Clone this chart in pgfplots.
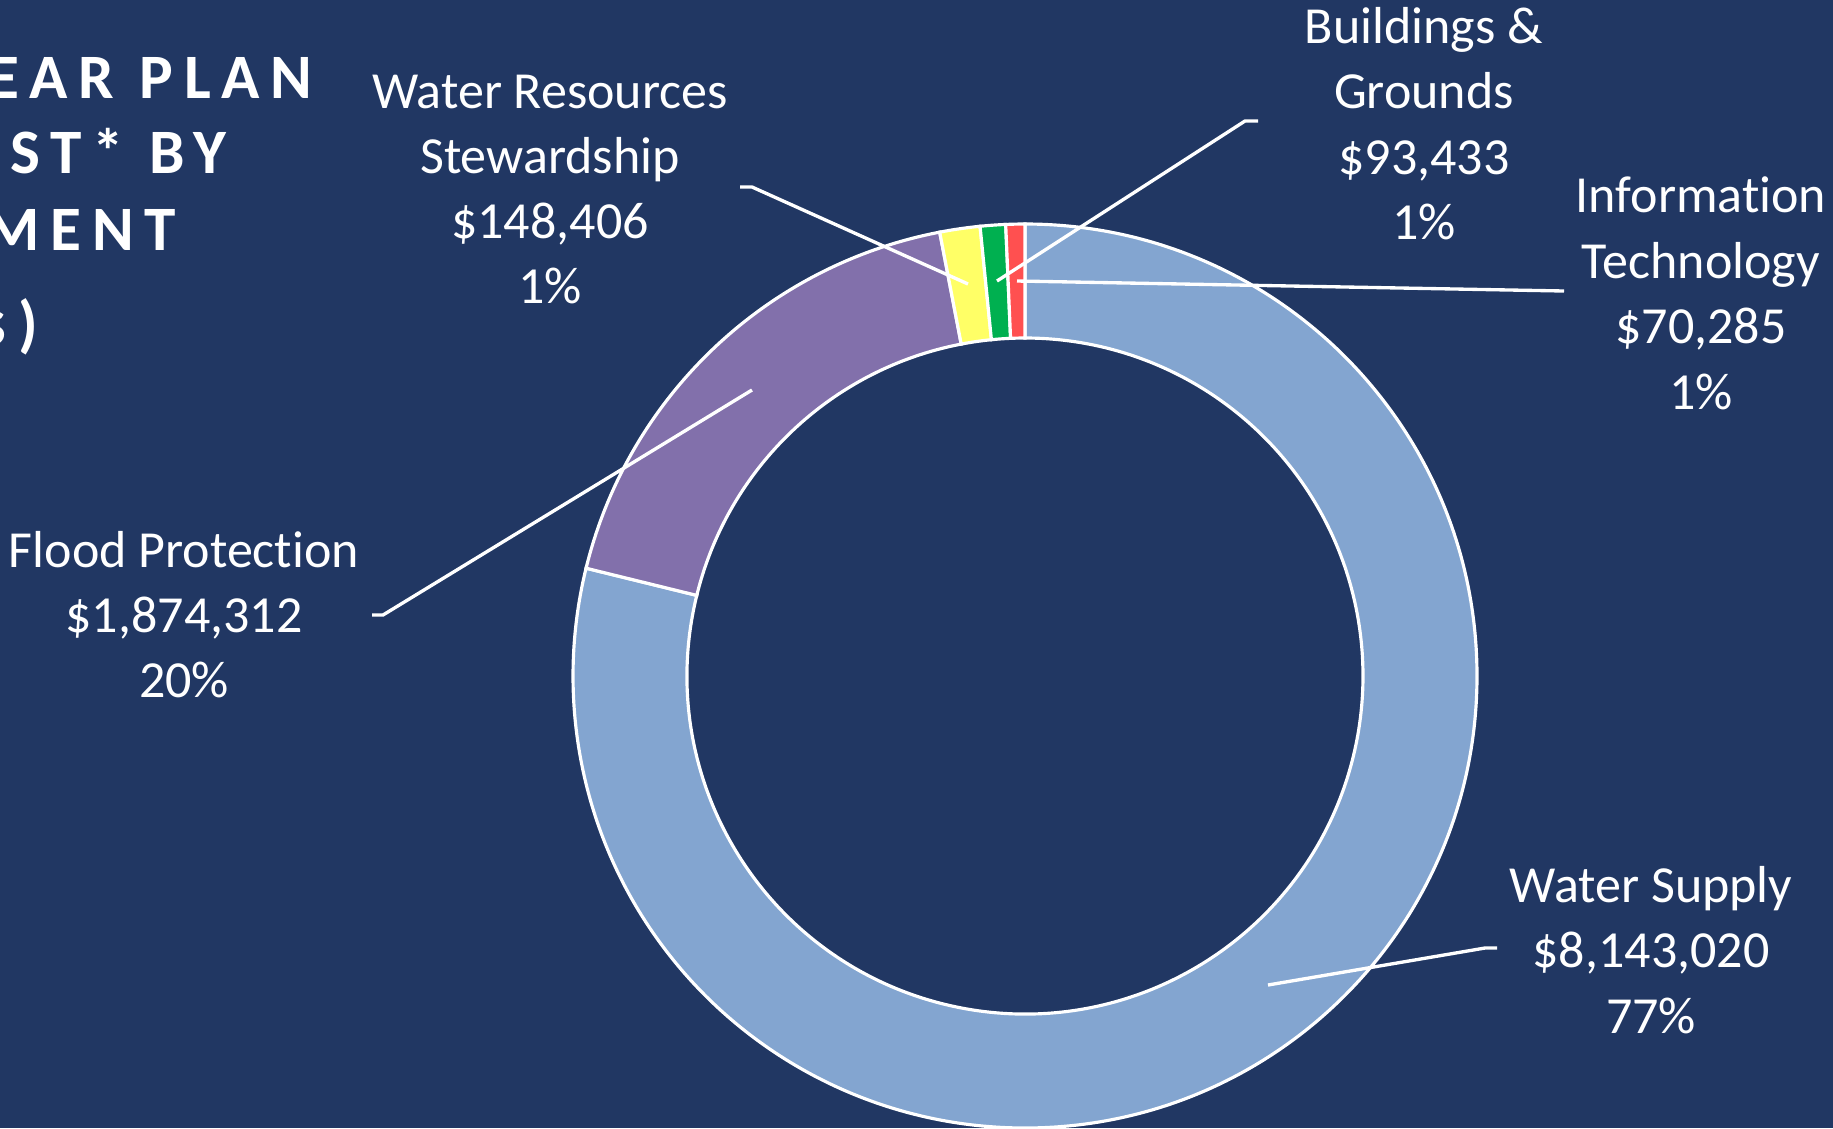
\documentclass[border=0pt]{standalone}
\usepackage{pgfplots}
\pgfplotsset{compat=1.18}
\usepackage{fontspec}
\setmainfont{Carlito}[Ligatures=NoCommon]
\newfontfamily\titlefont[LetterSpace=17, Ligatures=NoCommon]{Carlito}
\usetikzlibrary{calc}
\definecolor{bg}{RGB}{33,55,99}
\definecolor{cWS}{RGB}{131,165,208}
\definecolor{cFP}{RGB}{130,112,171}
\definecolor{cWR}{RGB}{255,255,102}
\definecolor{cBG}{RGB}{0,176,80}
\definecolor{cIT}{RGB}{255,80,80}
\tikzset{lbl/.style={anchor=base, inner sep=0pt, text=white, font=\fontsize{14.8}{18}\selectfont},
  ttl/.style={anchor=base east, inner sep=0pt, text=white, font=\titlefont\bfseries\fontsize{18}{22}\selectfont}}
\begin{document}
\begin{tikzpicture}
\useasboundingbox (0,0) rectangle (18.33,11.28);
\clip (0,0) rectangle (18.33,11.28);
\fill[bg] (0,0) rectangle (18.33,11.28);
\begin{axis}[at={(0,0)}, anchor=south west, scale only axis,
  width=18.33cm, height=11.28cm, xmin=0, xmax=1833, ymin=0, ymax=1128,
  y dir=reverse, hide axis, clip=false]
% donut slices: values (USD), clockwise from 12 o'clock
\pgfplotsextra{
  \coordinate (O) at (axis cs:1025,676);
  \gdef\acc{90}
  \foreach \v/\c in {8143020/cWS, 1874312/cFP, 148406/cWR, 93433/cBG, 70285/cIT}{
    \edef\s{\acc}
    \edef\e{\fpeval{\acc-360*\v/10329456}}
    \filldraw[fill=\c, draw=white, line width=0.9pt]
      ($(O)+(\s:4.52cm)$) arc[start angle=\s, end angle=\e, radius=4.52cm]
      -- ($(O)+(\e:3.38cm)$) arc[start angle=\e, end angle=\s, radius=3.38cm] -- cycle;
    \xdef\acc{\e}
  }
}
% leader lines
\addplot[white, line width=0.95pt, mark=none] coordinates {(740,187)(752,187)(968,284)};
\addplot[white, line width=0.95pt, mark=none] coordinates {(1258,121)(1245,121)(997,281)};
\addplot[white, line width=0.95pt, mark=none] coordinates {(1017,281)(1564,291)};
\addplot[white, line width=0.95pt, mark=none] coordinates {(372,615)(383,615)(752,390)};
\addplot[white, line width=0.95pt, mark=none] coordinates {(1497,948)(1485,948)(1268,985)};
% labels
\node[lbl] at (axis cs:550,108) {Water Resources};
\node[lbl] at (axis cs:550,173) {Stewardship};
\node[lbl] at (axis cs:550,238) {\$148,406};
\node[lbl] at (axis cs:550,303) {1\%};
\node[lbl] at (axis cs:1424,43) {Buildings \&};
\node[lbl] at (axis cs:1424,108) {Grounds};
\node[lbl] at (axis cs:1424,174) {\$93,433};
\node[lbl] at (axis cs:1424,239) {1\%};
\node[lbl] at (axis cs:1701,212) {Information};
\node[lbl] at (axis cs:1701,278) {Technology};
\node[lbl] at (axis cs:1701,343) {\$70,285};
\node[lbl] at (axis cs:1701,409) {1\%};
\node[lbl] at (axis cs:184,567) {Flood Protection};
\node[lbl] at (axis cs:184,632) {\$1,874,312};
\node[lbl] at (axis cs:184,697) {20\%};
\node[lbl] at (axis cs:1651,902) {Water Supply};
\node[lbl] at (axis cs:1651,967) {\$8,143,020};
\node[lbl] at (axis cs:1651,1033) {77\%};
% title (cut off at the left edge, as in the reference)
\node[ttl] at (axis cs:313,98) {5-YEAR PLAN};
\node[ttl] at (axis cs:227,173) {COST* BY};
\node[ttl] at (axis cs:177,250) {DEPARTMENT};
\node[ttl] at (axis cs:39,345) {(\$)};
\end{axis}
\end{tikzpicture}
\end{document}
